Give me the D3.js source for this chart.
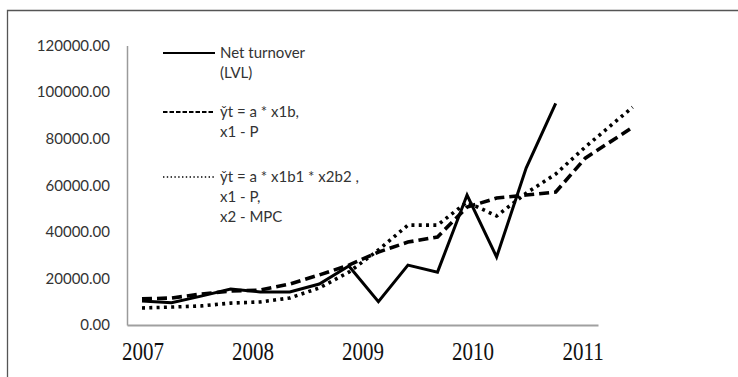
<!DOCTYPE html>
<html>
<head>
<meta charset="utf-8">
<script src="https://cdn.jsdelivr.net/npm/d3@7"></script>
<style>
  html, body { margin: 0; padding: 0; background: #fff; }
  svg { display: block; }
</style>
</head>
<body>
<svg id="chart" width="738" height="377"></svg>
<script>
// Quarterly periods (decimal years); the last forecast period sits early in 2011
const periods = [2007, 2007.25, 2007.5, 2007.75, 2008, 2008.25, 2008.5, 2008.75,
                 2009, 2009.25, 2009.5, 2009.75, 2010, 2010.25, 2010.5, 2010.75, 2011.15];

// Net turnover (LVL), actual values 2007 Q1 – 2010 Q3
const netTurnover = [10300, 9600, 12400, 15400, 14200, 14200, 17600, 25300,
                     10000, 25700, 22700, 55800, 29200, 67400, 95200];

// Model 1: ŷt = a * x1^b, x1 – P
const model1 = [11200, 11600, 13300, 14600, 15000, 17600, 21500, 25700,
                31300, 35600, 37800, 50600, 54500, 55800, 57100, 71600, 84900];

// Model 2: ŷt = a * x1^b1 * x2^b2, x1 – P, x2 – MPC
const model2 = [7300, 7700, 8200, 9400, 9900, 11600, 15900, 22700,
                32200, 42900, 42900, 52800, 46800, 56600, 64800, 76400, 93500];

const yTicks = [0, 20000, 40000, 60000, 80000, 100000, 120000];
const yearLabels = ["2007", "2008", "2009", "2010", "2011"];

const legendItems = [
  { lines: ["Net turnover", "(LVL)"], kind: "solid" },
  { lines: ["y\u030Ct = a * x1b,", "x1 - P"], kind: "dashed" },
  { lines: ["y\u030Ct = a * x1b1 * x2b2 ,", "x1 - P,", "x2 - MPC"], kind: "dotted" }
];

const svg = d3.select("#chart");

// outer frame (left and top edges)
svg.append("path")
  .attr("d", "M7.5,377 V10.5 H738")
  .attr("fill", "none")
  .attr("stroke", "#555")
  .attr("stroke-width", 1.3);

const x = d3.scaleLinear().domain([2007, 2011]).range([142, 614.8]);
const y = d3.scaleLinear().domain([0, 120000]).range([325, 45.5]);
const xYears = d3.scalePoint().domain(yearLabels).range([127, 598]).padding(0.14);

// y axis
const yAxis = svg.append("g")
  .attr("transform", "translate(127,0)")
  .call(d3.axisLeft(y).tickValues(yTicks).tickSize(0).tickPadding(17)
    .tickFormat(d => d.toFixed(2)));
yAxis.select(".domain").attr("stroke", "#9a9a9a").attr("stroke-width", 1.5);
yAxis.selectAll("text")
  .attr("font-family", "Lato, 'Open Sans', sans-serif")
  .attr("font-size", 15)
  .attr("fill", "#333");

// x axis with year labels
const xAxis = svg.append("g")
  .attr("transform", "translate(0,325)")
  .call(d3.axisBottom(xYears).tickSize(0).tickSizeOuter(0));
xAxis.select(".domain").attr("stroke", "#a0a0a0").attr("stroke-width", 2);
xAxis.selectAll("text")
  .attr("y", 0)
  .attr("dy", null)
  .attr("transform", "translate(0,35) scale(1,1.2)")
  .attr("font-family", "'Liberation Serif', 'Times New Roman', serif")
  .attr("font-size", 21)
  .attr("fill", "#111");

const styles = {
  solid:  { width: 3,   dash: null },
  dashed: { width: 3.6, dash: "10,5" },
  dotted: { width: 3.6, dash: "3,4.3" }
};

const line = d3.line()
  .x(d => x(d[0]))
  .y(d => y(d[1]));

const series = [
  { values: model2, kind: "dotted" },
  { values: model1, kind: "dashed" },
  { values: netTurnover, kind: "solid" }
];

series.forEach(s => {
  const pts = s.values.map((v, i) => [periods[i], v]);
  svg.append("path")
    .datum(pts)
    .attr("d", line)
    .attr("fill", "none")
    .attr("stroke", "#000")
    .attr("stroke-width", styles[s.kind].width)
    .attr("stroke-dasharray", styles[s.kind].dash)
    .attr("stroke-linejoin", "miter");
});

// legend
const legendSamples = {
  solid:  { width: 2,   dash: null },
  dashed: { width: 2,   dash: "4.5,2" },
  dotted: { width: 1.4, dash: "1.4,2.4" }
};
const legendTops = [53, 112, 177];
const legend = svg.append("g");
legendItems.forEach((item, i) => {
  const cy = legendTops[i];
  legend.append("line")
    .attr("x1", 163).attr("x2", 215)
    .attr("y1", cy).attr("y2", cy)
    .attr("stroke", "#000")
    .attr("stroke-width", legendSamples[item.kind].width)
    .attr("stroke-dasharray", legendSamples[item.kind].dash);
  item.lines.forEach((t, j) => {
    legend.append("text")
      .attr("x", 220)
      .attr("y", cy + 5 + j * 20)
      .attr("font-family", "Lato, 'Open Sans', sans-serif")
      .attr("font-size", 15)
      .attr("fill", "#333")
      .text(t);
  });
});
</script>
</body>
</html>
